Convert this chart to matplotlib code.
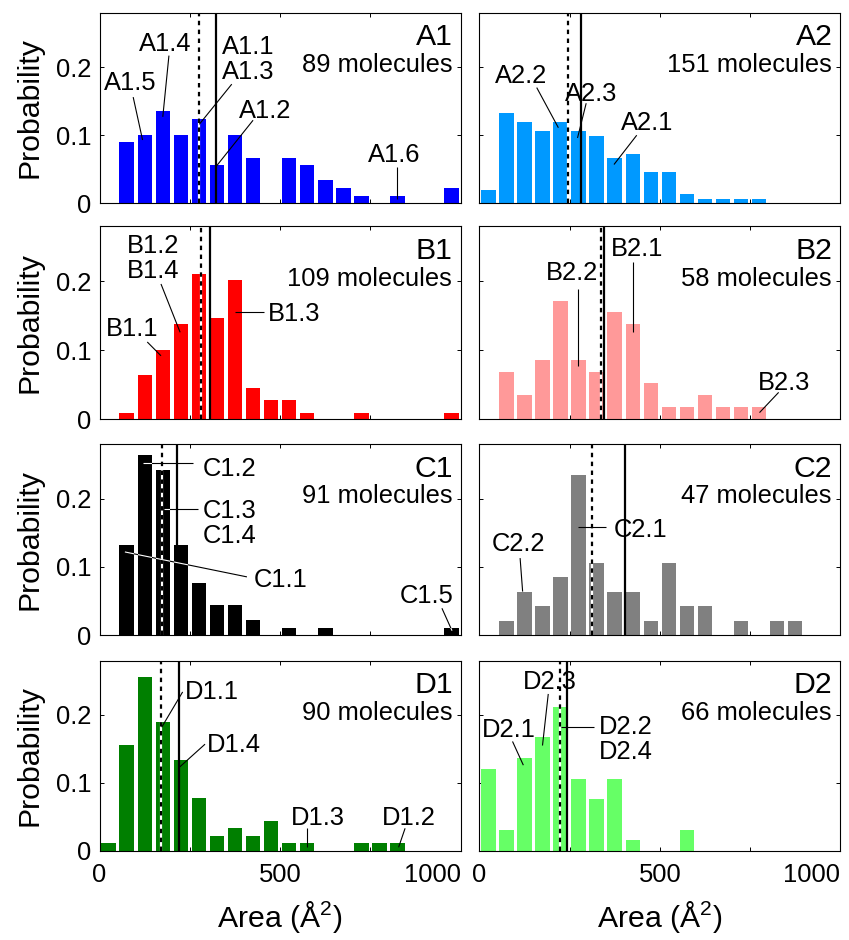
import matplotlib
matplotlib.use('Agg')
import matplotlib.pyplot as plt

plt.rcParams['font.family'] = ['Liberation Sans', 'DejaVu Sans']
plt.rcParams['mathtext.fontset'] = 'custom'
plt.rcParams['mathtext.rm'] = 'Liberation Sans'
plt.rcParams['mathtext.it'] = 'Liberation Sans:italic'
plt.rcParams['mathtext.default'] = 'regular'

# ---------------- data ----------------
bin_centers = [25, 75, 125, 175, 225, 275, 325, 375, 425, 475,
               525, 575, 625, 675, 725, 775, 825, 875, 925, 975]

A1_prob = [0, 0.090, 0.101, 0.135, 0.101, 0.124, 0.056, 0.101, 0.067, 0,
           0.067, 0.056, 0.034, 0.022, 0.011, 0, 0.011, 0, 0, 0.022]
A2_prob = [0.020, 0.133, 0.119, 0.106, 0.119, 0.106, 0.099, 0.066, 0.073, 0.046,
           0.046, 0.013, 0.0066, 0.0066, 0.0066, 0.0066, 0, 0, 0, 0]
B1_prob = [0, 0.0092, 0.064, 0.101, 0.138, 0.211, 0.147, 0.202, 0.046, 0.0275,
           0.0275, 0.0092, 0, 0, 0.0092, 0, 0, 0, 0, 0.0092]
B2_prob = [0, 0.069, 0.0345, 0.086, 0.172, 0.086, 0.069, 0.155, 0.138, 0.052,
           0.0172, 0.0172, 0.0345, 0.0172, 0.0172, 0.0172, 0, 0, 0, 0]
C1_prob = [0, 0.132, 0.264, 0.242, 0.132, 0.077, 0.044, 0.044, 0.022, 0,
           0.011, 0, 0.011, 0, 0, 0, 0, 0, 0, 0.011]
C2_prob = [0, 0.0213, 0.0638, 0.0426, 0.0851, 0.234, 0.106, 0.0638, 0.0638, 0.0213,
           0.106, 0.0426, 0.0426, 0, 0.0213, 0, 0.0213, 0.0213, 0, 0]
D1_prob = [0.0111, 0.156, 0.256, 0.189, 0.133, 0.078, 0.022, 0.033, 0.022, 0.044,
           0.0111, 0.0111, 0, 0, 0.0111, 0.0111, 0.0111, 0, 0, 0]
D2_prob = [0.121, 0.030, 0.136, 0.167, 0.212, 0.106, 0.0758, 0.106, 0.0152, 0,
           0, 0.030, 0, 0, 0, 0, 0, 0, 0, 0]

panel_names = ['A1', 'A2', 'B1', 'B2', 'C1', 'C2', 'D1', 'D2']
molecules = [89, 151, 109, 58, 91, 47, 90, 66]
bar_colors = ['#0000FF', '#0099FF', '#FF0000', '#FF9999',
              '#000000', '#808080', '#007F00', '#66FF66']
dotted_x = [275, 245, 280, 337, 172, 311, 170, 224]
solid_x = [321, 281, 306, 344, 214, 404, 221, 242]

# labels: (text, x, baseline y, horizontal alignment)
A1_texts = [('A1.5', 84, 0.166, 'center'), ('A1.4', 181, 0.224, 'center'),
            ('A1.1', 339, 0.220, 'left'), ('A1.3', 339, 0.183, 'left'),
            ('A1.2', 458, 0.126, 'center'), ('A1.6', 816, 0.060, 'center')]
A1_leaders = [(93, 0.156, 119, 0.093), (192, 0.217, 175, 0.127),
              (366, 0.175, 276, 0.116), (425, 0.122, 324, 0.055),
              (823, 0.054, 823, 0.006)]

A2_texts = [('A2.2', 117, 0.176, 'center'), ('A2.3', 309, 0.150, 'center'),
            ('A2.1', 466, 0.107, 'center')]
A2_leaders = [(159, 0.170, 219, 0.111), (296, 0.147, 272, 0.096),
              (436, 0.100, 373, 0.057)]

B1_texts = [('B1.2', 148, 0.2406, 'center'), ('B1.4', 148, 0.204, 'center'),
            ('B1.1', 89, 0.1205, 'center'), ('B1.3', 467, 0.1425, 'left')]
B1_leaders = [(170, 0.196, 223, 0.126), (132, 0.112, 170, 0.092),
              (454, 0.156, 375, 0.156)]

B2_texts = [('B2.2', 258, 0.2015, 'center'), ('B2.1', 436, 0.236, 'center'),
            ('B2.3', 844, 0.043, 'center')]
B2_leaders = [(274, 0.189, 274, 0.077), (427, 0.228, 427, 0.127),
              (829, 0.039, 776, 0.0097)]

C1_texts = [('C1.2', 287, 0.2328, 'left'), ('C1.3', 287, 0.171, 'left'),
            ('C1.4', 287, 0.135, 'left'), ('C1.1', 426, 0.071, 'left'),
            ('C1.5', 906, 0.047, 'center')]
C1_leaders = [(260, 0.252, 119, 0.252), (273, 0.1845, 178, 0.1845),
              (408, 0.0855, 70, 0.122), (948, 0.0396, 976, 0.0067)]

C2_texts = [('C2.1', 371, 0.1435, 'left'), ('C2.2', 108, 0.124, 'center')]
C2_leaders = [(351, 0.159, 274, 0.159), (113, 0.113, 120, 0.064)]

D1_texts = [('D1.1', 311, 0.223, 'center'), ('D1.4', 372, 0.145, 'center'),
            ('D1.3', 604, 0.038, 'center'), ('D1.2', 857, 0.038, 'center')]
D1_leaders = [(230, 0.234, 172, 0.182), (292, 0.157, 221, 0.123),
              (575, 0.033, 575, 0.005), (846, 0.033, 828, 0.005)]

D2_texts = [('D2.3', 196, 0.238, 'center'), ('D2.1', 82, 0.167, 'center'),
            ('D2.2', 330, 0.172, 'left'), ('D2.4', 330, 0.1355, 'left')]
D2_leaders = [(191, 0.231, 175, 0.155), (92, 0.161, 122, 0.126),
              (318, 0.183, 226, 0.183)]

x_ticks = [0, 250, 500, 750, 1000]
x_ticklabels = ['0', '', '500', '', '1000']
y_ticks = [0, 0.1, 0.2]
y_ticklabels = ['0', '0.1', '0.2']

probs = [A1_prob, A2_prob, B1_prob, B2_prob, C1_prob, C2_prob, D1_prob, D2_prob]
texts = [A1_texts, A2_texts, B1_texts, B2_texts, C1_texts, C2_texts, D1_texts, D2_texts]
leaders = [A1_leaders, A2_leaders, B1_leaders, B2_leaders,
           C1_leaders, C2_leaders, D1_leaders, D2_leaders]

# ---------------- layout ----------------
W, H = 849, 940
fig = plt.figure(figsize=(W / 100, H / 100), dpi=100)
col_left = [99.6, 479.3]
col_width = 361.1
row_tops = [12.7, 226.0, 444.0, 660.7]
row_bottoms = [203.3, 419.3, 635.3, 850.7]

FS_SMALL = 18.4
FS_BIG = 21.8

for i, name in enumerate(panel_names):
    r, c = divmod(i, 2)
    x0 = col_left[c] / W
    y0 = 1 - row_bottoms[r] / H
    h = (row_bottoms[r] - row_tops[r]) / H
    ax = fig.add_axes([x0, y0, col_width / W, h])
    bars = ax.bar(bin_centers, probs[i], width=40, color=bar_colors[i],
                  linewidth=0, zorder=2)
    ax.set_xlim(0, 1000)
    ax.set_ylim(0, 0.28)

    # vertical reference lines
    ax.axvline(dotted_x[i], color='white', lw=1.6, zorder=3)
    ax.axvline(dotted_x[i], color='black', lw=1.6, ls=(0, (2, 2)), zorder=3.1)
    ax.axvline(solid_x[i], color='black', lw=1.6, zorder=3.2)

    # leader lines
    dark = bar_colors[i] == '#000000'
    for (lx0, ly0, lx1, ly1) in leaders[i]:
        ax.plot([lx0, lx1], [ly0, ly1], color='black', lw=0.8, zorder=4,
                solid_capstyle='butt')
        if dark:
            for b in bars:
                ln, = ax.plot([lx0, lx1], [ly0, ly1], color='white', lw=0.8,
                              zorder=4.5, solid_capstyle='butt')
                ln.set_clip_path(b)

    for (t, tx, ty, ha) in texts[i]:
        ax.text(tx, ty, t, ha=ha, va='baseline', fontsize=FS_SMALL, zorder=5)

    ax.text(978, 0.232, name, ha='right', va='baseline', fontsize=FS_BIG, zorder=5)
    ax.text(976, 0.193, f'{molecules[i]} molecules', ha='right', va='baseline',
            fontsize=FS_SMALL, zorder=5)

    # ticks
    ax.set_xticks(x_ticks)
    ax.set_yticks(y_ticks)
    ax.tick_params(direction='in', length=3, width=0.7, top=True, right=True,
                   labelsize=FS_SMALL)
    ax.tick_params(axis='x', pad=9.0)
    ax.tick_params(axis='y', pad=6.0)
    if r == 3:
        ax.set_xticklabels(x_ticklabels)
        ax.xaxis.get_major_ticks()[4].label1.set_horizontalalignment('right')
        ax.set_xlabel('Area (Å$^2$)', fontsize=FS_BIG)
        ax.xaxis.set_label_coords(0.5, -0.255)
    else:
        ax.set_xticklabels([])
    if c == 0:
        ax.set_yticklabels(y_ticklabels)
        ax.set_ylabel('Probability', fontsize=FS_BIG)
        ax.yaxis.set_label_coords(-0.155, 0.5)
    else:
        ax.set_yticklabels([])
    for s in ax.spines.values():
        s.set_linewidth(0.8)
        s.set_zorder(6)

fig.savefig('out.png', dpi=100)
